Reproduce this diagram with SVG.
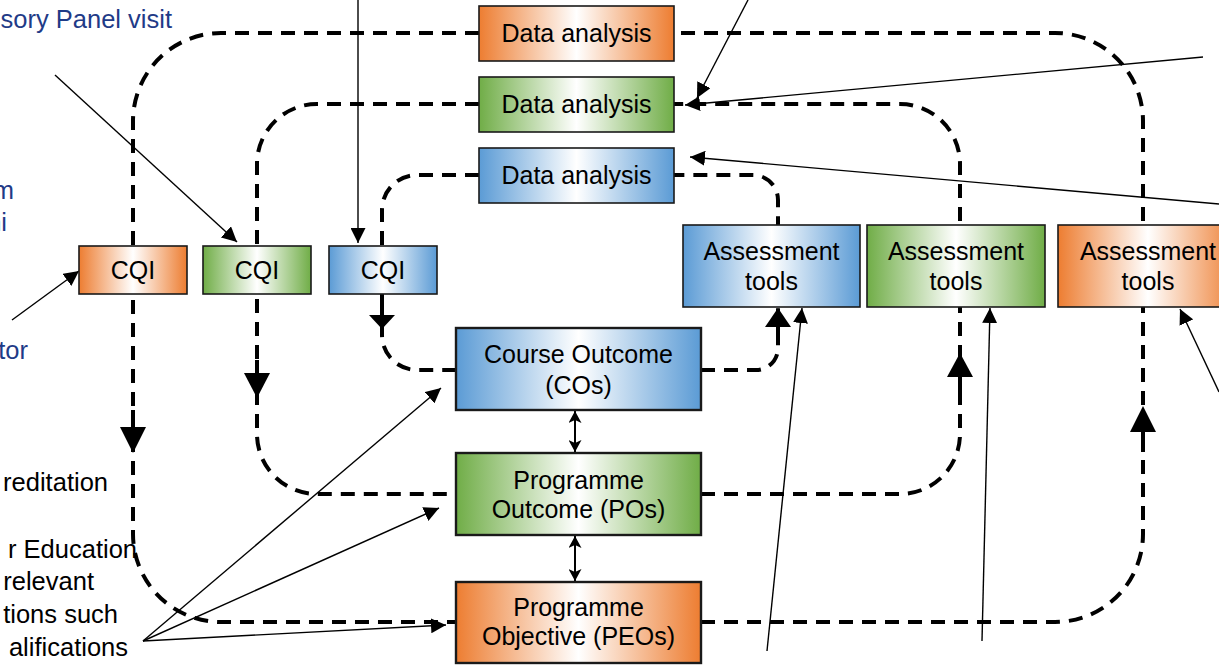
<svg xmlns="http://www.w3.org/2000/svg" width="1219" height="665" viewBox="0 0 1219 665">
<style>
.dash{fill:none;stroke:#000;stroke-width:4;stroke-dasharray:14 9}
.solid{fill:none;stroke:#000;stroke-width:4}
.head{fill:#000}
.thin{fill:none;stroke:#000;stroke-width:1.4;marker-end:url(#ah)}
.dbl{fill:none;stroke:#000;stroke-width:2;marker-start:url(#ah2);marker-end:url(#ah2)}
.box{stroke:#1a1a1a;stroke-width:1.6}
.mbox{stroke:#1a1a1a;stroke-width:2.4}
.or{fill:url(#gOr)}
.gr{fill:url(#gGr)}
.bl{fill:url(#gBl)}
text{font-family:"Liberation Sans",Arial,sans-serif}
.t{font-size:25px;fill:#000;text-anchor:middle}
.lb{font-size:25.5px;fill:#1f3b87;text-anchor:end}
.lk{font-size:25.5px;fill:#000;text-anchor:end}
</style>
<defs>
<linearGradient id="gOr" x1="0" y1="0" x2="1" y2="0"><stop offset="0" stop-color="#ED7D31"/><stop offset="0.5" stop-color="#fff"/><stop offset="1" stop-color="#ED7D31"/></linearGradient>
<linearGradient id="gGr" x1="0" y1="0" x2="1" y2="0"><stop offset="0" stop-color="#70AD47"/><stop offset="0.5" stop-color="#fff"/><stop offset="1" stop-color="#70AD47"/></linearGradient>
<linearGradient id="gBl" x1="0" y1="0" x2="1" y2="0"><stop offset="0" stop-color="#5B9BD5"/><stop offset="0.5" stop-color="#fff"/><stop offset="1" stop-color="#5B9BD5"/></linearGradient>
<marker id="ah" markerUnits="userSpaceOnUse" markerWidth="15" markerHeight="15" refX="15" refY="7.5" orient="auto"><path d="M0,0 L15,7.5 L0,15 z" fill="#000"/></marker>
<marker id="ah2" markerUnits="userSpaceOnUse" markerWidth="13" markerHeight="13" refX="12" refY="6.5" orient="auto-start-reverse"><path d="M0,0 L12,6.5 L0,13 L3,6.5 z" fill="#000"/></marker>
</defs>
<g id="connectors">
<path class="dash" d="M479,33 H221 A88,88 0 0 0 133,121 V534 A88,88 0 0 0 221,622 H456"/>
<path class="dash" d="M701,622 H1055 A88,88 0 0 0 1143,534 V121 A88,88 0 0 0 1055,33 H674"/>
<path class="dash" d="M479,104 H317 A60,60 0 0 0 257,164 V435 A60,60 0 0 0 317,494 H456"/>
<path class="dash" d="M701,494 H900 A60,60 0 0 0 960,434 V164 A60,60 0 0 0 900,104 H674"/>
<path class="dash" d="M479,175 H417 A35,35 0 0 0 382,210 V335 A35,35 0 0 0 417,370 H456"/>
<path class="dash" d="M701,370 H756 A22,22 0 0 0 778,348 V200 A25,25 0 0 0 753,175 H674"/>
<path class="solid" d="M133,410 V428 M257,360 V374 M382,294 V316 M778,326 V345 M960,376 V392 M1143,431 V452"/>
<polygon class="head" points="120,427 146,427 133,453"/>
<polygon class="head" points="244,373 270,373 257,398"/>
<polygon class="head" points="369,315 395,315 382,329"/>
<polygon class="head" points="765,327 791,327 778,308"/>
<polygon class="head" points="947,377 973,377 960,353"/>
<polygon class="head" points="1130,432 1156,432 1143,406"/>
<line class="thin" x1="55" y1="75" x2="237" y2="242"/>
<line class="thin" x1="358" y1="0" x2="358" y2="243"/>
<line class="thin" x1="12" y1="320" x2="79" y2="271"/>
<line class="thin" x1="748" y1="0" x2="697" y2="98"/>
<line class="thin" x1="1203" y1="57" x2="685" y2="105"/>
<line class="thin" x1="1219" y1="204" x2="690" y2="157"/>
<line class="thin" x1="1219" y1="392" x2="1180" y2="309"/>
<line class="thin" x1="767" y1="651" x2="802" y2="308"/>
<line class="thin" x1="982" y1="641" x2="990" y2="308"/>
<line class="thin" x1="143" y1="641" x2="441" y2="388"/>
<line class="thin" x1="143" y1="641" x2="439" y2="508"/>
<line class="thin" x1="143" y1="641" x2="446" y2="625"/>
<line class="dbl" x1="575" y1="411" x2="575" y2="452"/>
<line class="dbl" x1="575" y1="536" x2="575" y2="581"/>
</g>
<g id="da-orange"><rect class="box or" x="479" y="6" width="195" height="55"/><text class="t" x="576.5" y="42">Data analysis</text></g>
<g id="da-green"><rect class="box gr" x="479" y="77" width="195" height="55"/><text class="t" x="576.5" y="113">Data analysis</text></g>
<g id="da-blue"><rect class="box bl" x="479" y="148" width="195" height="55"/><text class="t" x="576.5" y="184">Data analysis</text></g>
<g id="cqi-orange"><rect class="box or" x="79" y="246" width="108" height="48"/><text class="t" x="133" y="279">CQI</text></g>
<g id="cqi-green"><rect class="box gr" x="203" y="246" width="108" height="48"/><text class="t" x="257" y="279">CQI</text></g>
<g id="cqi-blue"><rect class="box bl" x="329" y="246" width="108" height="48"/><text class="t" x="383" y="279">CQI</text></g>
<g id="at-blue"><rect class="box bl" x="683" y="225" width="177" height="82"/><text class="t" x="771.5" y="260">Assessment</text><text class="t" x="771.5" y="290">tools</text></g>
<g id="at-green"><rect class="box gr" x="867" y="225" width="178" height="82"/><text class="t" x="956" y="260">Assessment</text><text class="t" x="956" y="290">tools</text></g>
<g id="at-orange"><rect class="box or" x="1058" y="225" width="180" height="82"/><text class="t" x="1148" y="260">Assessment</text><text class="t" x="1148" y="290">tools</text></g>
<g id="co"><rect class="mbox bl" x="456" y="328" width="245" height="82"/><text class="t" x="578.5" y="363">Course Outcome</text><text class="t" x="578.5" y="394">(COs)</text></g>
<g id="po"><rect class="mbox gr" x="456" y="453" width="245" height="82"/><text class="t" x="578.5" y="489">Programme</text><text class="t" x="578.5" y="518">Outcome (POs)</text></g>
<g id="peo"><rect class="mbox or" x="456" y="582" width="245" height="81"/><text class="t" x="578.5" y="616">Programme</text><text class="t" x="578.5" y="645">Objective (PEOs)</text></g>
<g id="labels">
<text class="lb" x="172" y="28">sory Panel visit</text>
<text class="lb" x="14" y="199">m</text>
<text class="lb" x="7" y="231">ni</text>
<text class="lb" x="28" y="359">tor</text>
<text class="lk" x="108" y="491">reditation</text>
<text class="lk" x="137" y="558">r Education</text>
<text class="lk" x="94" y="590">relevant</text>
<text class="lk" x="118" y="623">tions such</text>
<text class="lk" x="128" y="656">alifications</text>
</g>
</svg>
